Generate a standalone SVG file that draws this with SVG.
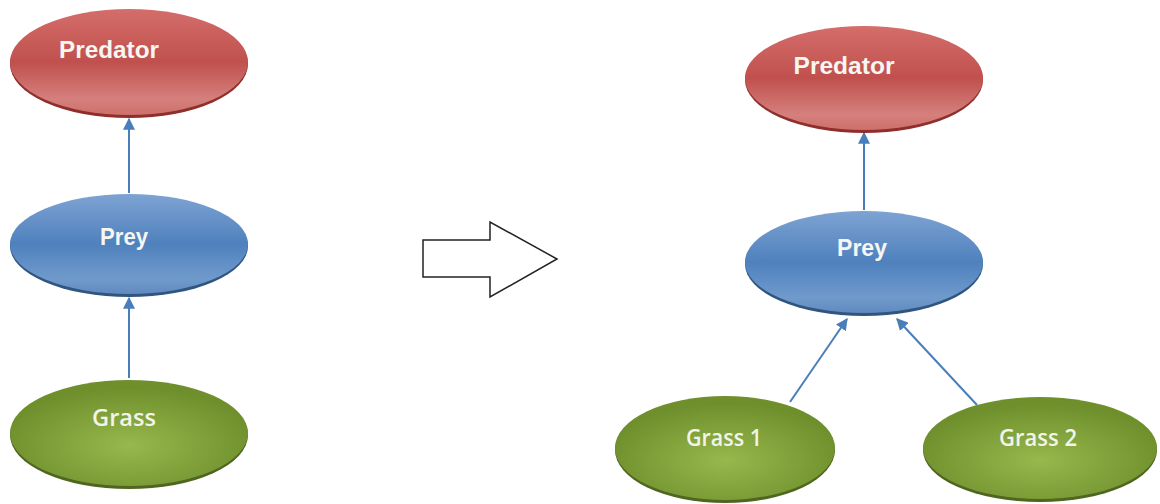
<svg xmlns="http://www.w3.org/2000/svg" width="1160" height="504" viewBox="0 0 1160 504">
<defs>
<linearGradient id="gRed" x1="0" y1="0" x2="0" y2="1">
<stop offset="0" stop-color="#d46e6b"/>
<stop offset="0.5" stop-color="#c0504d"/>
<stop offset="0.85" stop-color="#d5807d"/>
<stop offset="1" stop-color="#cf6f6c"/>
</linearGradient>
<linearGradient id="gBlue" x1="0" y1="0" x2="0" y2="1">
<stop offset="0" stop-color="#7ea3d3"/>
<stop offset="0.5" stop-color="#4f81bd"/>
<stop offset="0.85" stop-color="#709acc"/>
<stop offset="1" stop-color="#6189bf"/>
</linearGradient>
<radialGradient id="gGreen" cx="0.5" cy="0.62" r="0.55">
<stop offset="0" stop-color="#97b84c"/>
<stop offset="1" stop-color="#6f8f2d"/>
</radialGradient>
<marker id="ah" viewBox="0 0 10 10" refX="9" refY="5" markerWidth="6" markerHeight="6" orient="auto" markerUnits="strokeWidth">
<path d="M0,0 L10,5 L0,10 z" fill="#4a7ebb"/>
</marker>
<style>
.rimR{fill:#8e2f2c}
.rimB{fill:#30557f}
.rimG{fill:#4f6620}
.red{fill:url(#gRed)}
.blue{fill:url(#gBlue)}
.green{fill:url(#gGreen)}
.lbl{font-family:"Liberation Sans",Arial,sans-serif;font-weight:bold;font-size:24px;fill:#f6f6f2}
.lblg{font-family:"Open Sans","Liberation Sans",Arial,sans-serif;font-weight:600;font-size:24px;fill:#f2f4ea}
.con{stroke:#4a7ebb;stroke-width:2;fill:none;marker-end:url(#ah)}
</style>
</defs>
<rect width="1160" height="504" fill="#ffffff"/>
<g id="connectors">
<line class="con" x1="129" y1="193" x2="129" y2="119"/>
<line class="con" x1="129" y1="378" x2="129" y2="298"/>
<line class="con" x1="864" y1="210" x2="864" y2="133"/>
<line class="con" x1="790" y1="402" x2="847" y2="319"/>
<line class="con" x1="977" y1="405" x2="897" y2="319"/>
</g>
<g id="predator-left">
<ellipse class="rimR" cx="129" cy="64" rx="119" ry="54"/>
<ellipse class="red" cx="129" cy="62" rx="119" ry="53"/>
<text class="lbl" x="109" y="58" text-anchor="middle" textLength="100" lengthAdjust="spacingAndGlyphs">Predator</text>
</g>
<g id="prey-left">
<ellipse class="rimB" cx="129" cy="246" rx="119" ry="51"/>
<ellipse class="blue" cx="129" cy="244" rx="119" ry="50"/>
<text class="lbl" x="124" y="245" text-anchor="middle" textLength="48" lengthAdjust="spacingAndGlyphs">Prey</text>
</g>
<g id="grass-left">
<ellipse class="rimG" cx="129" cy="435" rx="119" ry="54"/>
<ellipse class="green" cx="129" cy="433" rx="119" ry="53"/>
<text class="lblg" x="124" y="426" text-anchor="middle" textLength="64" lengthAdjust="spacingAndGlyphs">Grass</text>
</g>
<g id="transform-arrow">
<polygon points="423,240 490,240 490,222 557,259 490,297 490,277 423,277" fill="#ffffff" stroke="#222222" stroke-width="1.5"/>
</g>
<g id="predator-right">
<ellipse class="rimR" cx="864" cy="80" rx="119" ry="53"/>
<ellipse class="red" cx="864" cy="78" rx="119" ry="52"/>
<text class="lbl" x="844" y="74" text-anchor="middle" textLength="101" lengthAdjust="spacingAndGlyphs">Predator</text>
</g>
<g id="prey-right">
<ellipse class="rimB" cx="864" cy="264" rx="119" ry="52"/>
<ellipse class="blue" cx="864" cy="262" rx="119" ry="51"/>
<text class="lbl" x="862" y="256" text-anchor="middle" textLength="50" lengthAdjust="spacingAndGlyphs">Prey</text>
</g>
<g id="grass-1">
<ellipse class="rimG" cx="725" cy="450" rx="110" ry="53"/>
<ellipse class="green" cx="725" cy="448" rx="110" ry="52"/>
<text class="lblg" x="724" y="446" text-anchor="middle" textLength="76" lengthAdjust="spacingAndGlyphs">Grass 1</text>
</g>
<g id="grass-2">
<ellipse class="rimG" cx="1040" cy="450" rx="117" ry="52"/>
<ellipse class="green" cx="1040" cy="448" rx="117" ry="51"/>
<text class="lblg" x="1038" y="446" text-anchor="middle" textLength="78" lengthAdjust="spacingAndGlyphs">Grass 2</text>
</g>
</svg>
